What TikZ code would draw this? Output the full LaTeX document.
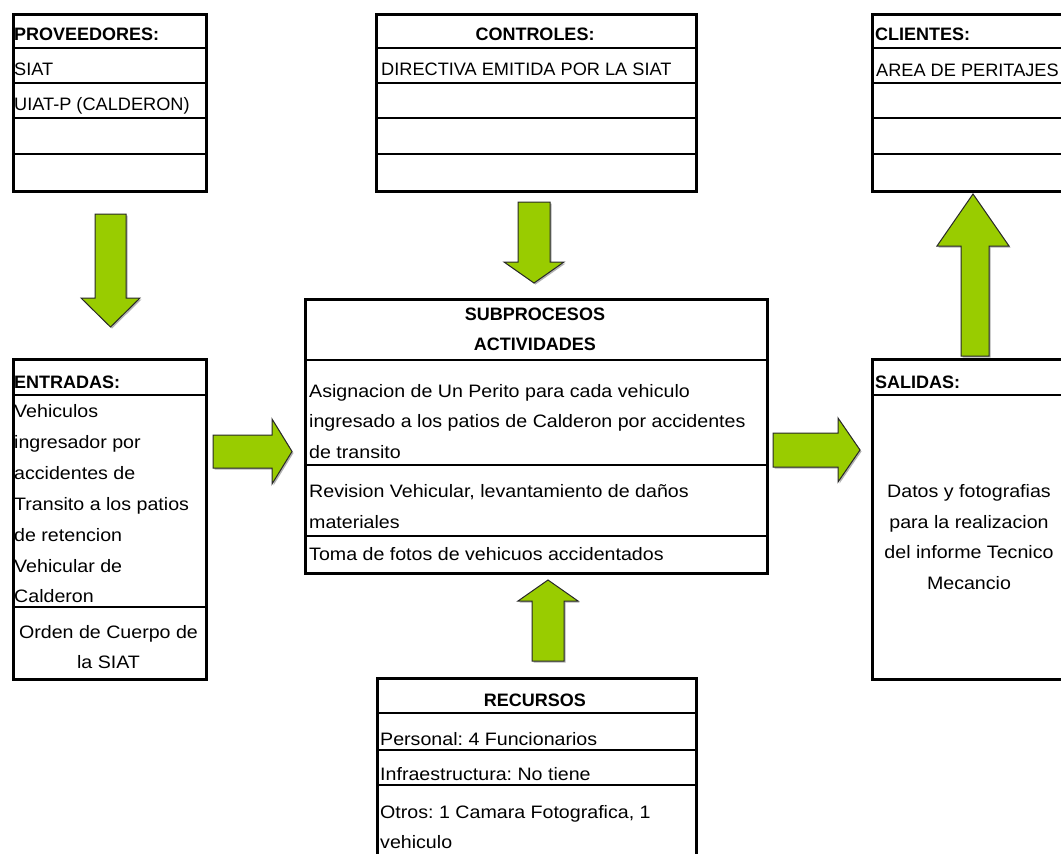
\documentclass[tikz,border=0pt]{standalone}
\usepackage{fontspec}
\setmainfont{Liberation Sans}
% mixed-case body text is set a little wider than the capitals
\newfontfamily\mixfont{Liberation Sans}[FakeStretch=1.09]
\newfontfamily\capfont{Liberation Sans}[FakeStretch=1.01]
\definecolor{arrowgreen}{RGB}{153,204,0}
\definecolor{arrowline}{RGB}{40,40,40}
\frenchspacing
\begin{document}
\begin{tikzpicture}[x=1pt,y=-1pt,
  box/.style={draw, line width=2.8pt, inner sep=0pt, anchor=north west},
  rule/.style={line width=1.3pt},
  thickrule/.style={line width=2.4pt},
  txt/.style={font=\mixfont\fontsize{18}{31}\selectfont, inner sep=0pt, anchor=base west},
  ctxt/.style={font=\mixfont\fontsize{18}{31}\selectfont, inner sep=0pt, anchor=base},
  captxt/.style={font=\capfont\fontsize{18}{31}\selectfont, inner sep=0pt, anchor=base west},
  hdr/.style={font=\bfseries\fontsize{18}{31}\selectfont, inner sep=0pt, anchor=base west},
  chdr/.style={font=\bfseries\fontsize{18}{31}\selectfont, inner sep=0pt, anchor=base},
  garrow/.style={fill=arrowgreen, draw=arrowline, line width=1pt, line join=miter,
    preaction={fill=black!30, transform canvas={shift={(1.5pt,-1.5pt)}}}}]
\clip (0,0) rectangle (1061,854);
\fill[white] (0,0) rectangle (1061,854);

% ---------- PROVEEDORES ----------
\node[box, minimum width=193pt, minimum height=177pt] (prov) at (12,13) {};
\foreach \yy in {48,83,118,154} \draw[rule] (prov.west |- 0,\yy) -- (prov.east |- 0,\yy);
\node[hdr] (provh) at (14,40) {PROVEEDORES:};
\node[captxt] (prov1) at (14,75) {SIAT};
\node[captxt] (prov2) at (14,110) {UIAT-P (CALDERON)};

% ---------- CONTROLES ----------
\node[box, minimum width=320pt, minimum height=177pt] (ctrl) at (375,13) {};
\foreach \yy in {48,83,118,154} \draw[rule] (ctrl.west |- 0,\yy) -- (ctrl.east |- 0,\yy);
\node[chdr] (ctrlh) at (535,40.5) {CONTROLES:};
\node[captxt] (ctrl1) at (381,75.5) {DIRECTIVA EMITIDA POR LA SIAT};

% ---------- CLIENTES ----------
\node[box, minimum width=210pt, minimum height=177pt] (cli) at (871,13) {};
\foreach \yy in {48,83,118,154} \draw[rule] (cli.west |- 0,\yy) -- (cli.east |- 0,\yy);
\node[hdr] (clih) at (875,40) {CLIENTES:};
\node[captxt] (cli1) at (876,76) {AREA DE PERITAJES};

% ---------- ENTRADAS ----------
\node[box, minimum width=193pt, minimum height=320pt] (ent) at (12,358) {};
\draw[rule] (ent.west |- 0,395) -- (ent.east |- 0,395);
\draw[rule] (ent.west |- 0,607) -- (ent.east |- 0,607);
\node[hdr] (enth) at (14,388) {ENTRADAS:};
\node[txt] (ent1) at (14,417) {Vehiculos};
\node[txt] (ent2) at (14,448) {ingresador por};
\node[txt] (ent3) at (14,479) {accidentes de};
\node[txt] (ent4) at (14,510) {Transito a los patios};
\node[txt] (ent5) at (14,541) {de retencion};
\node[txt] (ent6) at (14,572) {Vehicular de};
\node[txt] (ent7) at (14,602) {Calderon};
\node[ctxt] (ent8) at (108.5,638) {Orden de Cuerpo de};
\node[ctxt] (ent9) at (108.5,668) {la SIAT};

% ---------- SUBPROCESOS / ACTIVIDADES ----------
\node[box, minimum width=462pt, minimum height=274pt] (sub) at (304,298) {};
\draw[line width=1.8pt] (sub.west |- 0,360) -- (sub.east |- 0,360);
\draw[rule] (sub.west |- 0,465) -- (sub.east |- 0,465);
\draw[rule] (sub.west |- 0,536) -- (sub.east |- 0,536);
\node[chdr] (subh1) at (535,320) {SUBPROCESOS};
\node[chdr] (subh2) at (535,350) {ACTIVIDADES};
\node[txt] (sub1) at (309,397) {Asignacion de Un Perito para cada vehiculo};
\node[txt] (sub2) at (309,427) {ingresado a los patios de Calderon por accidentes};
\node[txt] (sub3) at (309,458) {de transito};
\node[txt] (sub4) at (309,497) {Revision Vehicular, levantamiento de daños};
\node[txt] (sub5) at (309,528) {materiales};
\node[txt] (sub6) at (309,560) {Toma de fotos de vehicuos accidentados};

% ---------- SALIDAS ----------
\node[box, minimum width=210pt, minimum height=320pt] (sal) at (871,358) {};
\draw[rule] (sal.west |- 0,395) -- (sal.east |- 0,395);
\node[hdr] (salh) at (875,388) {SALIDAS:};
\node[ctxt] (sal1) at (969,497) {Datos y fotografias};
\node[ctxt] (sal2) at (969,528) {para la realizacion};
\node[ctxt] (sal3) at (969,558) {del informe Tecnico};
\node[ctxt] (sal4) at (969,589) {Mecancio};

% ---------- RECURSOS ----------
\node[box, minimum width=319pt, minimum height=240pt] (rec) at (376,677) {};
\draw[thickrule] (rec.west |- 0,713) -- (rec.east |- 0,713);
\draw[rule] (rec.west |- 0,750) -- (rec.east |- 0,750);
\draw[rule] (rec.west |- 0,785) -- (rec.east |- 0,785);
\node[chdr] (rech) at (535,706) {RECURSOS};
\node[txt] (rec1) at (380,745) {Personal: 4 Funcionarios};
\node[txt] (rec2) at (380,780) {Infraestructura: No tiene};
\node[txt] (rec3) at (380,818) {Otros: 1 Camara Fotografica, 1};
\node[txt] (rec4) at (380,848) {vehiculo};

% ---------- block arrows ----------
% proveedores -> entradas
\draw[garrow] (95,214) -- (126,214) -- (126,298) -- (140,298) -- (110.5,327)
  -- (81,298) -- (95,298) -- cycle;
% controles -> subprocesos
\draw[garrow] (518,202) -- (550,202) -- (550,262) -- (564,262) -- (534,283)
  -- (504,262) -- (518,262) -- cycle;
% entradas -> subprocesos
\draw[garrow] (213,435) -- (272,435) -- (272,419) -- (292,451.5) -- (272,484)
  -- (272,468) -- (213,468) -- cycle;
% subprocesos -> salidas
\draw[garrow] (773,433) -- (838,433) -- (838,418) -- (860,450) -- (838,482)
  -- (838,467) -- (773,467) -- cycle;
% recursos -> subprocesos
\draw[garrow] (532,661) -- (532,601) -- (518,601) -- (548,580) -- (578,601)
  -- (564,601) -- (564,661) -- cycle;
% salidas -> clientes
\draw[garrow] (961,356) -- (961,246) -- (937,246) -- (973,194) -- (1009,246)
  -- (989,246) -- (989,356) -- cycle;
\end{tikzpicture}
\end{document}
